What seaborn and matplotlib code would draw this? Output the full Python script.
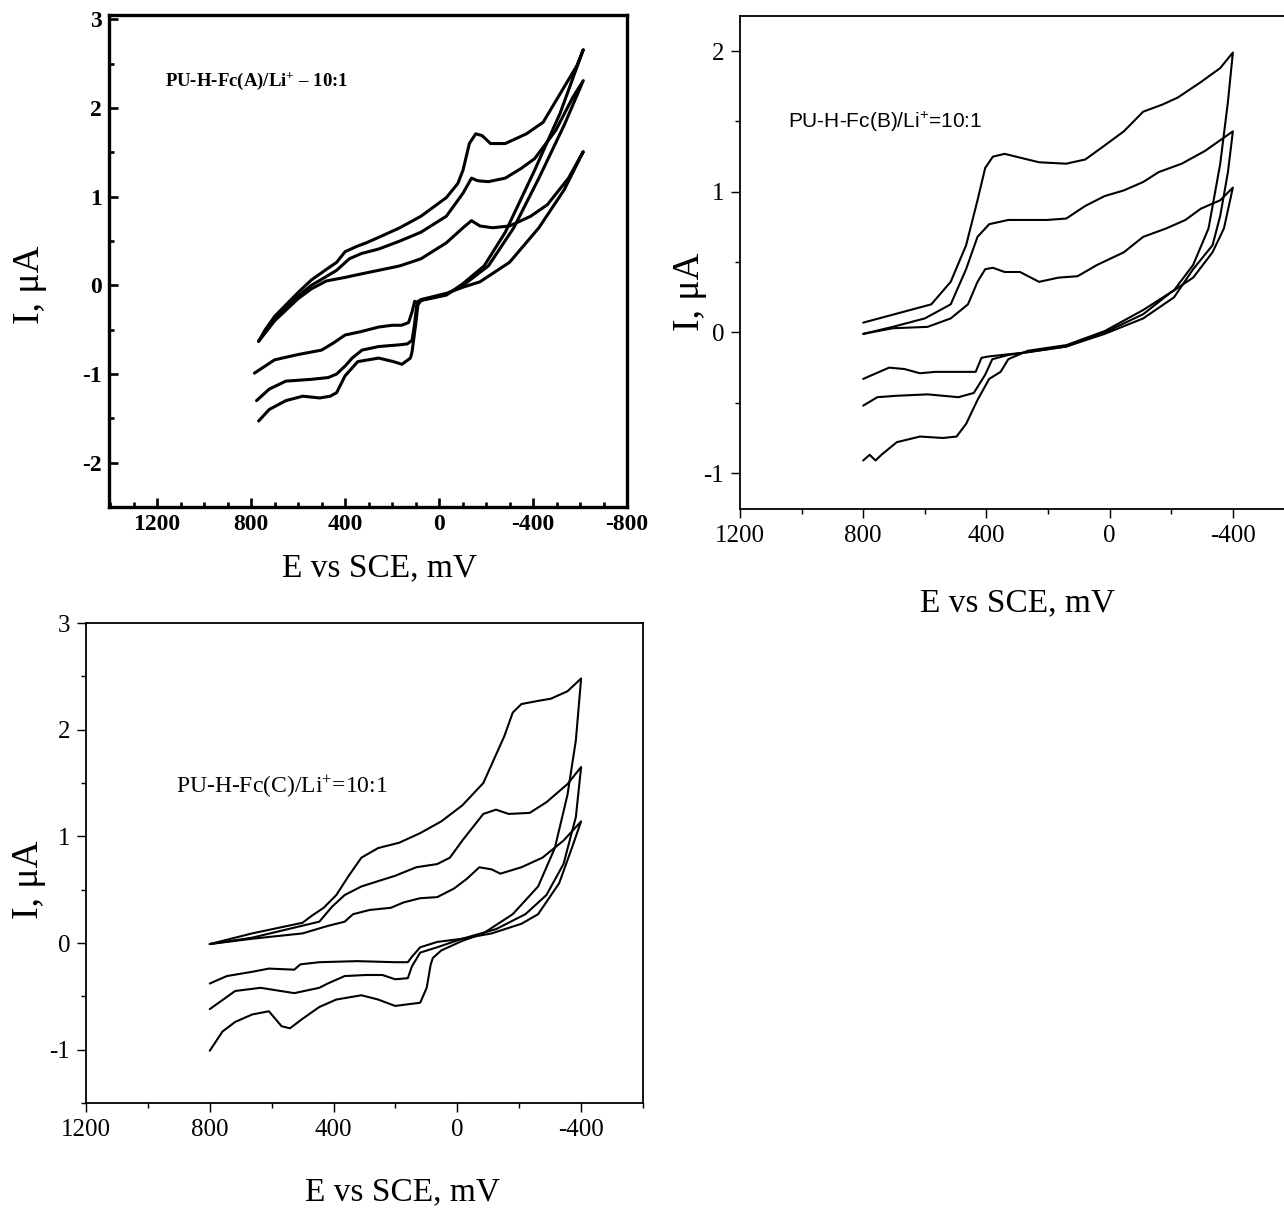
import matplotlib

matplotlib.use("Agg")
import matplotlib.pyplot as plt
import pandas as pd
import seaborn as sns
from matplotlib import font_manager
from matplotlib.ticker import MultipleLocator

# ---- Panel A: PU-H-Fc(A)/Li+ = 10:1 (E in mV, I in uA), three scans ----
A1_E = [768, 700, 652, 600, 544, 480, 400, 330, 257, 167, 77, -31, -102, -138, -174, -228, -300, -390, -461, -551, -614,
        -533, -425, -300, -174, -102, -31, 77, 95, 104, 115, 130, 160, 200, 257, 330, 400, 450, 500, 600, 700, 786]
A1_I = [-0.63, -0.40, -0.28, -0.15, -0.04, 0.05, 0.09, 0.13, 0.17, 0.22, 0.30, 0.48, 0.65, 0.73, 0.67, 0.65, 0.67, 0.78, 0.91, 1.21, 1.51,
        1.08, 0.65, 0.26, 0.04, -0.02, -0.09, -0.16, -0.19, -0.18, -0.30, -0.42, -0.45, -0.45, -0.47, -0.52, -0.56, -0.65, -0.73, -0.78, -0.84, -0.99]
A2_E = [768, 700, 652, 600, 544, 480, 436, 382, 330, 257, 167, 77, -31, -102, -138, -165, -210, -282, -350, -407, -497, -569, -614,
        -533, -425, -318, -210, -102, -31, 77, 95, 105, 115, 135, 167, 257, 328, 370, 400, 436, 472, 544, 652, 723, 777]
A2_I = [-0.63, -0.38, -0.26, -0.12, 0.00, 0.10, 0.17, 0.30, 0.36, 0.41, 0.50, 0.60, 0.78, 1.04, 1.21, 1.18, 1.17, 1.21, 1.32, 1.43, 1.75, 2.12, 2.31,
        1.81, 1.21, 0.65, 0.22, 0.00, -0.10, -0.17, -0.22, -0.45, -0.62, -0.66, -0.67, -0.69, -0.73, -0.82, -0.91, -1.00, -1.04, -1.06, -1.08, -1.17, -1.30]
A3_E = [768, 740, 700, 652, 600, 544, 480, 436, 400, 350, 310, 250, 167, 77, -31, -80, -102, -129, -156, -183, -219, -282, -372, -443, -515, -587, -614,
        -515, -407, -282, -192, -102, -31, 77, 90, 100, 115, 122, 158, 194, 257, 346, 400, 436, 463, 508, 580, 652, 723, 768]
A3_I = [-0.63, -0.50, -0.35, -0.22, -0.08, 0.06, 0.18, 0.26, 0.38, 0.44, 0.48, 0.55, 0.65, 0.78, 0.99, 1.15, 1.30, 1.60, 1.71, 1.69, 1.60, 1.60, 1.71, 1.84, 2.16, 2.48, 2.66,
        1.94, 1.30, 0.60, 0.22, 0.02, -0.11, -0.17, -0.22, -0.45, -0.75, -0.82, -0.89, -0.86, -0.82, -0.86, -1.02, -1.21, -1.25, -1.27, -1.25, -1.30, -1.40, -1.53]

# ---- Panel B: PU-H-Fc(B)/Li+ = 10:1 ----
B1_E = [800, 704, 591, 516, 460, 429, 404, 379, 341, 291, 229, 166, 104, 41, -46, -109, -184, -246, -296, -359, -400,
        -371, -334, -271, -196, -109, 16, 141, 266, 391, 416, 435, 491, 566, 616, 666, 716, 800]
B1_I = [-0.01, 0.03, 0.04, 0.10, 0.20, 0.36, 0.45, 0.46, 0.43, 0.43, 0.36, 0.39, 0.40, 0.48, 0.57, 0.68, 0.74, 0.80, 0.88, 0.94, 1.03,
        0.74, 0.57, 0.39, 0.28, 0.13, 0.00, -0.10, -0.14, -0.17, -0.18, -0.28, -0.28, -0.28, -0.29, -0.26, -0.25, -0.33]
B2_E = [800, 704, 600, 516, 466, 429, 391, 329, 204, 141, 79, 16, -46, -109, -159, -234, -309, -400,
        -384, -359, -334, -271, -209, -109, 16, 141, 266, 329, 381, 404, 441, 491, 591, 691, 754, 800]
B2_I = [-0.01, 0.04, 0.10, 0.20, 0.45, 0.68, 0.77, 0.80, 0.80, 0.81, 0.90, 0.97, 1.01, 1.07, 1.14, 1.20, 1.29, 1.43,
        1.14, 0.83, 0.62, 0.45, 0.25, 0.10, -0.01, -0.10, -0.14, -0.16, -0.19, -0.30, -0.43, -0.46, -0.44, -0.45, -0.46, -0.52]
B3_E = [800, 579, 516, 466, 429, 404, 379, 341, 304, 229, 141, 79, 16, -46, -109, -171, -221, -296, -359, -400,
        -384, -359, -321, -271, -209, -109, 16, 141, 266, 329, 354, 391, 429, 466, 497, 541, 616, 691, 741, 760, 779, 800]
B3_I = [0.07, 0.20, 0.36, 0.62, 0.94, 1.17, 1.25, 1.27, 1.25, 1.21, 1.20, 1.23, 1.33, 1.43, 1.57, 1.62, 1.67, 1.78, 1.88, 1.99,
        1.64, 1.20, 0.74, 0.48, 0.30, 0.16, 0.01, -0.09, -0.13, -0.19, -0.28, -0.33, -0.48, -0.65, -0.74, -0.75, -0.74, -0.78, -0.87, -0.91, -0.87, -0.91]

# ---- Panel C: PU-H-Fc(C)/Li+ = 10:1 ----
C1_E = [800, 663, 500, 419, 364, 337, 283, 215, 174, 120, 65, 11, -30, -71, -111, -139, -207, -275, -343, -400,
        -370, -329, -261, -207, -111, -16, 65, 120, 147, 160, 201, 324, 446, 507, 527, 609, 663, 745, 800]
C1_I = [-0.01, 0.04, 0.09, 0.16, 0.20, 0.27, 0.31, 0.33, 0.38, 0.42, 0.43, 0.51, 0.60, 0.71, 0.69, 0.65, 0.71, 0.80, 0.96, 1.14,
        0.89, 0.56, 0.27, 0.18, 0.09, 0.04, 0.01, -0.04, -0.13, -0.18, -0.18, -0.17, -0.18, -0.20, -0.25, -0.24, -0.27, -0.31, -0.38]
C2_E = [800, 663, 446, 405, 364, 310, 256, 201, 133, 65, 24, -16, -84, -125, -166, -234, -288, -356, -400,
        -383, -343, -288, -220, -125, -16, 65, 120, 147, 160, 201, 242, 296, 364, 419, 446, 527, 636, 718, 800]
C2_I = [-0.01, 0.05, 0.20, 0.34, 0.45, 0.53, 0.58, 0.63, 0.71, 0.74, 0.80, 0.96, 1.21, 1.25, 1.21, 1.22, 1.32, 1.49, 1.65,
        1.18, 0.74, 0.45, 0.27, 0.13, 0.04, -0.04, -0.09, -0.22, -0.33, -0.34, -0.30, -0.30, -0.31, -0.38, -0.42, -0.47, -0.42, -0.45, -0.62]
C3_E = [800, 663, 500, 473, 432, 391, 351, 310, 256, 188, 120, 52, -16, -84, -152, -179, -207, -261, -302, -356, -400,
        -383, -356, -315, -261, -179, -84, -16, 52, 79, 86, 99, 120, 174, 201, 256, 310, 391, 446, 500, 541, 568, 609, 663, 718, 759, 800]
C3_I = [-0.01, 0.09, 0.19, 0.25, 0.33, 0.45, 0.63, 0.80, 0.89, 0.94, 1.03, 1.14, 1.29, 1.50, 1.94, 2.16, 2.24, 2.27, 2.29, 2.36, 2.48,
        1.90, 1.39, 0.89, 0.53, 0.27, 0.09, 0.02, -0.07, -0.14, -0.20, -0.42, -0.56, -0.58, -0.59, -0.53, -0.49, -0.53, -0.60, -0.71, -0.80, -0.78, -0.64, -0.67, -0.74, -0.83, -1.01]

LABEL_A = "PU-H-Fc(A)/Li$^{+}$ \u2013 10:1"
LABEL_B = "PU-H-Fc(B)/Li$^{+}$=10:1"
LABEL_C = "PU-H-Fc(C)/Li$^{+}$=10:1"
XLABEL = "E vs SCE, mV"
YLABEL = "I, \u03bcA"

sns.set_style("ticks")
available = {f.name for f in font_manager.fontManager.ttflist}
SERIF = "Liberation Serif"
NARROW = "Liberation Sans Narrow" if "Liberation Sans Narrow" in available else "Liberation Sans"
plt.rcParams["font.family"] = [SERIF, "DejaVu Serif"]
plt.rcParams["mathtext.fontset"] = "custom"
plt.rcParams["mathtext.rm"] = SERIF
plt.rcParams["mathtext.default"] = "regular"
plt.rcParams["axes.unicode_minus"] = False
for key in ("text.color", "axes.labelcolor", "xtick.color", "ytick.color", "axes.edgecolor"):
    plt.rcParams[key] = "black"


def loop_frame(cycles):
    parts = []
    for k, (e, i) in enumerate(cycles, start=1):
        parts.append(pd.DataFrame({"E": e, "I": i, "scan": k}))
    return pd.concat(parts, ignore_index=True)


def draw_panel(ax, cycles, lw):
    sns.lineplot(data=loop_frame(cycles), x="E", y="I", units="scan", estimator=None,
                 sort=False, color="black", lw=lw, legend=False, ax=ax)


def style_axis(ax, xlim, ylim, direction, spine_w, label_size, bold):
    ax.set_xlim(*xlim)
    ax.set_ylim(*ylim)
    ax.xaxis.set_major_locator(MultipleLocator(400))
    ax.yaxis.set_major_locator(MultipleLocator(1))
    ax.yaxis.set_minor_locator(MultipleLocator(0.5))
    for s in ax.spines.values():
        s.set_linewidth(spine_w)
        s.set_color("black")
    ax.tick_params(which="both", direction=direction, top=False, right=False, width=spine_w * 0.8, colors="black")
    ax.tick_params(which="major", length=6.5, labelsize=label_size, pad=5)
    ax.tick_params(which="minor", length=3.5)
    if bold:
        for t in ax.get_xticklabels() + ax.get_yticklabels():
            t.set_fontweight("bold")
    ax.set_facecolor("white")


fig = plt.figure(figsize=(12.84, 12.10), dpi=100)

# Panel A
axA = fig.add_axes([109 / 1284, (1210 - 507) / 1210, 518 / 1284, 492 / 1210])
draw_panel(axA, [(A1_E, A1_I), (A2_E, A2_I), (A3_E, A3_I)], lw=2.2)
style_axis(axA, (1405, -800), (-2.5, 3.05), "in", 2.4, 17, bold=True)
axA.xaxis.set_minor_locator(MultipleLocator(100))
axA.text(0.284, 0.864, LABEL_A, transform=axA.transAxes, ha="center", va="center",
         fontsize=13.5, fontweight="bold")

# Panel B
axB = fig.add_axes([740 / 1284, (1210 - 509) / 1210, 544 / 1284, 493 / 1210])
draw_panel(axB, [(B1_E, B1_I), (B2_E, B2_I), (B3_E, B3_I)], lw=1.5)
style_axis(axB, (1200, -566), (-1.255, 2.25), "out", 1.3, 18, bold=False)
axB.xaxis.set_minor_locator(MultipleLocator(200))
axB.spines["right"].set_visible(False)
axB.text(0.267, 0.785, LABEL_B, transform=axB.transAxes, ha="center", va="center",
         fontsize=15, family=[NARROW, "DejaVu Sans"])

# Panel C
axC = fig.add_axes([86 / 1284, (1210 - 1103) / 1210, 557 / 1284, 480 / 1210])
draw_panel(axC, [(C1_E, C1_I), (C2_E, C2_I), (C3_E, C3_I)], lw=1.5)
style_axis(axC, (1200, -600), (-1.5, 3.0), "out", 1.3, 18, bold=False)
axC.xaxis.set_minor_locator(MultipleLocator(200))
axC.text(0.352, 0.658, LABEL_C, transform=axC.transAxes, ha="center", va="center", fontsize=17)

# axis titles placed like the scanned figure
for ax, xl, yl in [(axA, (0.523, -0.124), (-0.1525, 0.451)),
                   (axB, (0.511, -0.19), (-0.092, 0.44)),
                   (axC, (0.569, -0.185), (-0.102, 0.465))]:
    ax.set_xlabel(XLABEL, fontsize=24)
    ax.set_ylabel(YLABEL, fontsize=27)
    ax.xaxis.set_label_coords(*xl)
    ax.yaxis.set_label_coords(*yl)
    ax.xaxis.label.set_va("center")
    ax.yaxis.label.set_va("center")

fig.savefig("out.png", dpi=100, facecolor="white")
